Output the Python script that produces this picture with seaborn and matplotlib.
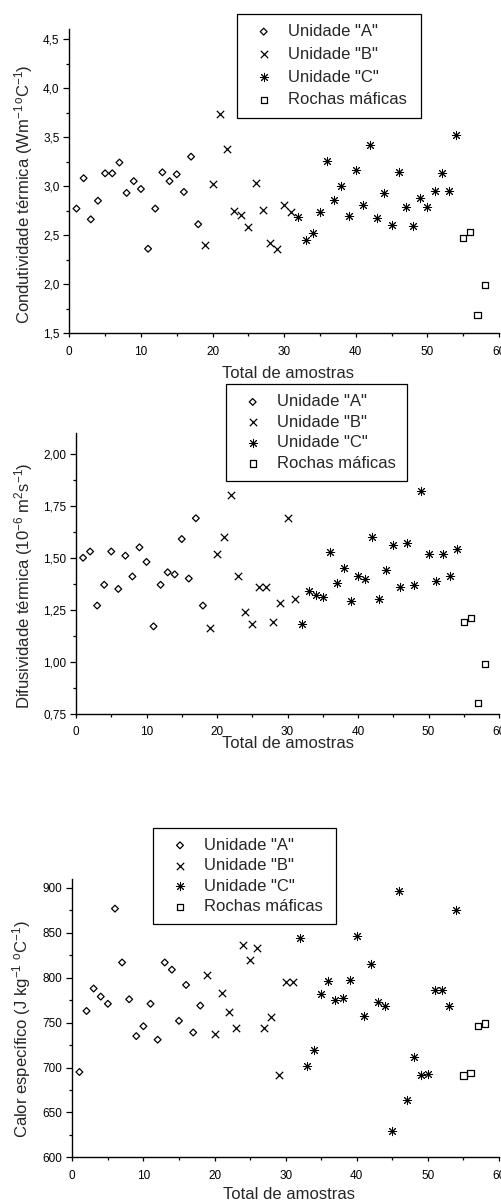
import matplotlib
matplotlib.use("Agg")
import matplotlib.pyplot as plt
from matplotlib.ticker import MultipleLocator, FuncFormatter
import seaborn as sns

# numero das amostras por unidade
amostras_a = [1, 2, 3, 4, 5, 6, 7, 8, 9, 10, 11, 12, 13, 14, 15, 16, 17, 18]
amostras_b = [19, 20, 21, 22, 23, 24, 25, 26, 27, 28, 29, 30, 31]
amostras_c = [32, 33, 34, 35, 36, 37, 38, 39, 40, 41, 42, 43, 44, 45, 46, 47,
              48, 49, 50, 51, 52, 53, 54]
amostras_d = [55, 56, 57, 58]

# condutividade termica (W m-1 oC-1)
cond_a = [2.77, 3.08, 2.66, 2.85, 3.13, 3.13, 3.24, 2.93, 3.05, 2.97, 2.36, 2.77,
          3.14, 3.05, 3.12, 2.94, 3.30, 2.61]
cond_b = [2.40, 3.02, 3.74, 3.38, 2.75, 2.70, 2.58, 3.03, 2.76, 2.42, 2.36, 2.81, 2.73]
cond_c = [2.68, 2.45, 2.52, 2.73, 3.26, 2.86, 3.00, 2.69, 3.16, 2.81, 3.42, 2.67,
          2.93, 2.60, 3.14, 2.79, 2.59, 2.88, 2.79, 2.95, 3.13, 2.95, 3.52]
cond_d = [2.47, 2.53, 1.68, 1.99]

# difusividade termica (10-6 m2 s-1)
dif_a = [1.50, 1.53, 1.27, 1.37, 1.53, 1.35, 1.51, 1.41, 1.55, 1.48, 1.17, 1.37,
         1.43, 1.42, 1.59, 1.40, 1.69, 1.27]
dif_b = [1.16, 1.52, 1.60, 1.80, 1.41, 1.24, 1.18, 1.36, 1.36, 1.19, 1.28, 1.69, 1.30]
dif_c = [1.18, 1.34, 1.32, 1.31, 1.53, 1.38, 1.45, 1.29, 1.41, 1.40, 1.60, 1.30,
         1.44, 1.56, 1.36, 1.57, 1.37, 1.82, 1.52, 1.39, 1.52, 1.41, 1.54]
dif_d = [1.19, 1.21, 0.80, 0.99]

# calor especifico (J kg-1 oC-1)
calor_a = [695, 763, 788, 779, 771, 877, 817, 776, 735, 746, 771, 731, 817, 809,
           752, 792, 739, 769]
calor_b = [803, 737, 783, 762, 744, 836, 820, 833, 744, 756, 692, 795, 795]
calor_c = [844, 702, 720, 782, 796, 775, 777, 797, 846, 757, 815, 773, 769, 629,
           897, 664, 712, 692, 693, 786, 786, 769, 876]
calor_d = [691, 694, 746, 749]

rotulos = ['Unidade "A"', 'Unidade "B"', 'Unidade "C"', 'Rochas máficas']

sns.set_style("ticks")
plt.rcParams['font.family'] = ['Liberation Sans', 'DejaVu Sans']
plt.rcParams['mathtext.fontset'] = 'custom'
plt.rcParams['mathtext.rm'] = 'Liberation Sans'
plt.rcParams['mathtext.it'] = 'Liberation Sans:italic'
plt.rcParams['axes.unicode_minus'] = True

W, H = 501, 1200
fig = plt.figure(figsize=(W / 100, H / 100), dpi=100)


def px_axes(left, top, right, bottom):
    return fig.add_axes([left / W, 1 - bottom / H, (right - left) / W, (bottom - top) / H])


def painel(ax, ya, yb, yc, yd, ylim, ymaj, ymin, decimais, ylabel,
           ylab_xy, xlab_xy, leg_box, leg_sp):
    sns.scatterplot(x=amostras_a, y=ya, marker='D', facecolor='none',
                    edgecolor='black', label=rotulos[0], ax=ax,
                    color='black', s=12, linewidth=0.9, legend=False)
    sns.scatterplot(x=amostras_b, y=yb, marker='x', label=rotulos[1], ax=ax,
                    color='black', s=28, linewidth=0.9, legend=False)
    sns.scatterplot(x=amostras_c, y=yc, marker=(8, 2, 0), label=rotulos[2], ax=ax,
                    color='black', s=36, linewidth=0.7, legend=False)
    sns.scatterplot(x=amostras_d, y=yd, marker='s', facecolor='none',
                    edgecolor='black', label=rotulos[3], ax=ax,
                    color='black', s=20, linewidth=0.9, legend=False)

    ax.set_xlim(0, 60)
    ax.set_ylim(*ylim)
    ax.xaxis.set_major_locator(MultipleLocator(10))
    ax.xaxis.set_minor_locator(MultipleLocator(5))
    ax.yaxis.set_major_locator(MultipleLocator(ymaj))
    ax.yaxis.set_minor_locator(MultipleLocator(ymin))
    ax.yaxis.set_major_formatter(
        FuncFormatter(lambda v, p: f"{v:.{decimais}f}".replace('.', ',')))

    for lado in ['top', 'right']:
        ax.spines[lado].set_visible(False)
    for lado in ['left', 'bottom']:
        ax.spines[lado].set_linewidth(1.0)
        ax.spines[lado].set_color('black')

    ax.tick_params(axis='both', which='both', direction='out', colors='black',
                   labelsize=8.5, width=0.9)
    ax.tick_params(axis='y', which='major', length=4.5, pad=2.5)
    ax.tick_params(axis='y', which='minor', length=2.5)
    ax.tick_params(axis='x', which='major', length=3, pad=6)
    ax.tick_params(axis='x', which='minor', length=2)

    ax.set_xlabel('Total de amostras', fontsize=12)
    ax.set_ylabel(ylabel, fontsize=12)
    ax.yaxis.set_label_coords(*ylab_xy)
    ax.xaxis.set_label_coords(*xlab_xy)
    ax.grid(False)

    x0, y0, w = leg_box
    leg = ax.legend(loc='upper left', bbox_to_anchor=(x0 / W, 1 - y0 / H, w / W, 0),
                    bbox_transform=fig.transFigure, mode='expand', frameon=True,
                    fancybox=False, fontsize=12, borderpad=0.6, handlelength=2.0,
                    handletextpad=0.45, labelspacing=leg_sp, borderaxespad=0,
                    markerscale=1.0)
    leg.get_frame().set_edgecolor('black')
    leg.get_frame().set_linewidth(0.9)
    leg.get_frame().set_facecolor('white')
    leg.get_frame().set_alpha(1)


ax1 = px_axes(69.3, 29.3, 499, 333)
painel(ax1, cond_a, cond_b, cond_c, cond_d, (1.5, 4.6), 0.5, 0.25, 1,
       r'Condutividade térmica (Wm$^{-1\,\mathrm{o}}$C$^{-1}$)',
       (-0.08, 0.457), (0.51, -0.108), (237, 14, 184), 0.47)

ax2 = px_axes(76, 433, 499, 713.7)
painel(ax2, dif_a, dif_b, dif_c, dif_d, (0.75, 2.1), 0.25, 0.125, 2,
       r'Difusividade térmica (10$^{-6}$ m$^{2}$s$^{-1}$)',
       (-0.097, 0.455), (0.502, -0.08), (226, 384.3, 181), 0.33)

ax3 = px_axes(72.3, 879, 499, 1157.3)
painel(ax3, calor_a, calor_b, calor_c, calor_d, (600, 910), 50, 25, 0,
       r'Calor específico (J kg$^{-1}$ $^{\mathrm{o}}$C$^{-1}$)',
       (-0.092, 0.461), (0.508, -0.105), (153.3, 827.7, 183), 0.33)

plt.savefig('out.png', dpi=100)
